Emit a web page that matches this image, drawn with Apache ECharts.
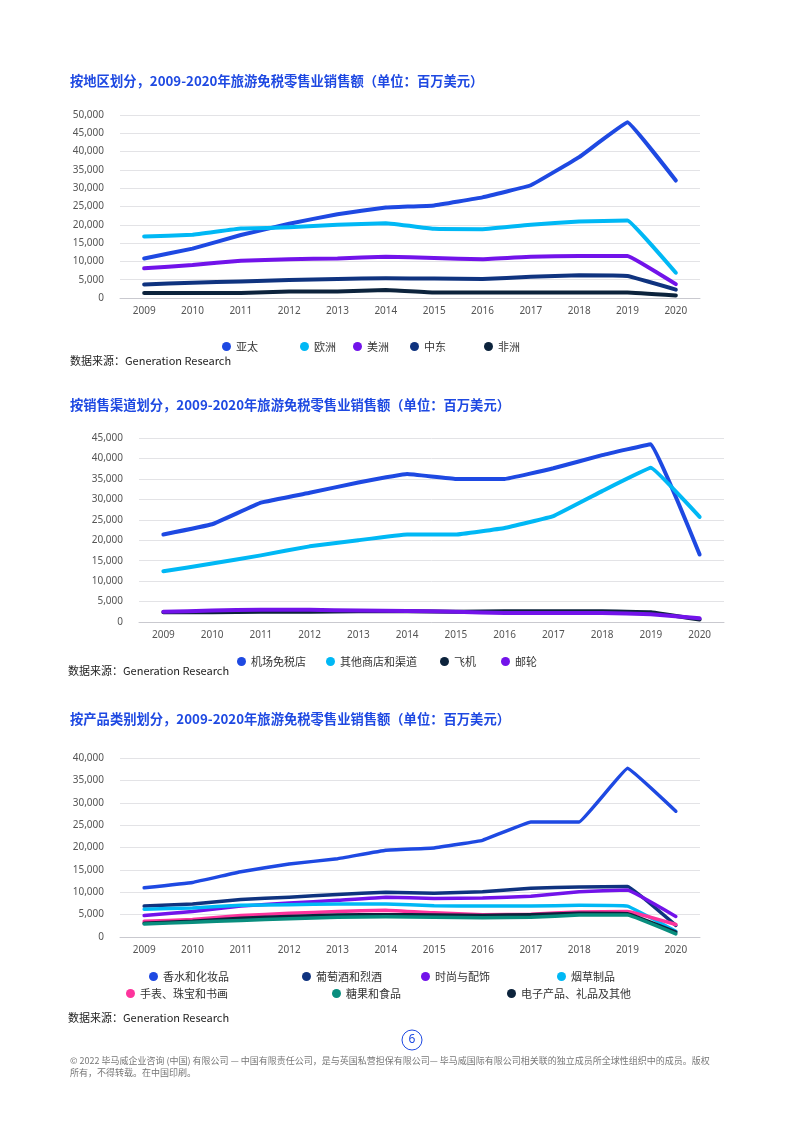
<!DOCTYPE html>
<html>
<head>
<meta charset="utf-8">
<script src="https://cdn.jsdelivr.net/npm/echarts@6/dist/echarts.min.js"></script>
<style>
html,body{margin:0;padding:0;background:#fff;}
#c{width:802px;height:1124px;}
</style>
</head>
<body>
<div id="c"></div>
<script>
// ---- data ----
const years = ['2009','2010','2011','2012','2013','2014','2015','2016','2017','2018','2019','2020'];

// chart 1: by region
const regionNames = ['亚太','欧洲','美洲','中东','非洲'];
const asiaPac   = [10800, 13500, 17200, 20300, 22900, 24700, 25300, 27500, 30800, 38500, 48000, 32100];
const europe    = [16800, 17300, 19000, 19300, 20000, 20400, 18900, 18800, 20000, 20900, 21200, 6900];
const americas  = [8100, 9000, 10200, 10600, 10800, 11300, 10900, 10600, 11300, 11500, 11500, 3800];
const midEast   = [3700, 4200, 4500, 4900, 5200, 5400, 5300, 5200, 5800, 6200, 6000, 2300];
const africa    = [1400, 1400, 1400, 1800, 1800, 2200, 1500, 1500, 1500, 1500, 1500, 700];

// chart 2: by channel
const channelNames = ['机场免税店','其他商店和渠道','飞机','邮轮'];
const airportShops = [21400, 23900, 29200, 31600, 34100, 36200, 35000, 35000, 37600, 40800, 43500, 16500];
const otherShops   = [12400, 14300, 16300, 18500, 20000, 21400, 21400, 23000, 25900, 32000, 37700, 25700];
const airlines     = [2400, 2400, 2500, 2500, 2600, 2600, 2500, 2600, 2600, 2600, 2400, 600];
const cruise       = [2500, 2800, 3000, 3000, 2800, 2700, 2500, 2200, 2200, 2200, 1900, 900];

// chart 3: by product
const productNames = ['香水和化妆品','葡萄酒和烈酒','时尚与配饰','烟草制品','手表、珠宝和书画','糖果和食品','电子产品、礼品及其他'];
const fragrance   = [11000, 12200, 14600, 16300, 17500, 19400, 19900, 21600, 25700, 25700, 37700, 28100];
const wine        = [6900, 7400, 8400, 8900, 9500, 10000, 9800, 10100, 10900, 11200, 11300, 2600];
const fashion     = [4800, 5700, 6900, 7600, 8200, 8900, 8600, 8700, 9100, 10100, 10500, 4600];
const tobacco     = [6200, 6500, 7100, 7200, 7400, 7400, 7000, 6900, 6900, 7100, 6900, 1300];
const watches     = [3500, 3900, 4800, 5300, 5700, 6000, 5400, 5000, 5100, 5600, 5700, 2800];
const confection  = [2900, 3300, 3700, 4100, 4400, 4500, 4400, 4300, 4400, 4900, 4900, 700];
const electronics = [3100, 3500, 4200, 4600, 4900, 5000, 4900, 4800, 5000, 5300, 5200, 1100];

const titleTexts = [
  '按地区划分，2009-2020年旅游免税零售业销售额（单位：百万美元）',
  '按销售渠道划分，2009-2020年旅游免税零售业销售额（单位：百万美元）',
  '按产品类别划分，2009-2020年旅游免税零售业销售额（单位：百万美元）'
];
const sourceText = '数据来源：Generation Research';
const footerLine1 = '© 2022 毕马威企业咨询 (中国) 有限公司 — 中国有限责任公司，是与英国私营担保有限公司— 毕马威国际有限公司相关联的独立成员所全球性组织中的成员。版权';
const footerLine2 = '所有，不得转载。在中国印刷。';
const pageNo = '6';
const yMax = [50000, 45000, 40000];

// ---- styles ----
const C = {
  blue:'#1E49E2', cyan:'#00B8F5', purple:'#7213EA', navy:'#0F337F', dark:'#0C233C',
  pink:'#FD349C', teal:'#098E7E'
};
const cjk = '"Noto Sans CJK SC","Noto Sans",sans-serif';
const num = '"Noto Sans","Noto Sans CJK SC",sans-serif';

const grids = [
  {left:120, right:102, top:115, height:183},
  {left:139, right:78,  top:438, height:184},
  {left:120, right:102, top:758, height:179}
];

function xAx(i){
  return {type:'category', gridIndex:i, data:years, boundaryGap:true,
    axisTick:{show:false}, axisLine:{show:true, lineStyle:{color:'#c9c9cf', width:1}},
    axisLabel:{color:'#555', fontSize:10, fontFamily:num, margin:8}};
}
function yAx(i){
  return {type:'value', gridIndex:i, min:0, max:yMax[i], interval:5000,
    axisLine:{show:false}, axisTick:{show:false},
    splitLine:{lineStyle:{color:'#e3e3e6', width:1}},
    axisLabel:{color:'#555', fontSize:10, fontFamily:num, margin:16,
      formatter:v=>v.toLocaleString('en-US')}};
}
function line(name, data, color, gi, w){
  return {name, type:'line', data, xAxisIndex:gi, yAxisIndex:gi, showSymbol:false,
    smooth:0.06, color, lineStyle:{color, width:w, cap:'round', join:'round'},
    emphasis:{disabled:true}, animation:false};
}
function leg(name, x, y){
  return {data:[name], left:x-4, top:y-7, padding:0, icon:'circle', itemWidth:9, itemHeight:9,
    selectedMode:false, textStyle:{color:'#333', fontSize:11, fontFamily:cjk}};
}

const series = [
  line(regionNames[0], asiaPac, C.blue, 0, 4),
  line(regionNames[1], europe, C.cyan, 0, 4),
  line(regionNames[2], americas, C.purple, 0, 4),
  line(regionNames[3], midEast, C.navy, 0, 4),
  line(regionNames[4], africa, C.dark, 0, 4),

  line(channelNames[0], airportShops, C.blue, 1, 4),
  line(channelNames[1], otherShops, C.cyan, 1, 4),
  line(channelNames[2], airlines, C.dark, 1, 4),
  line(channelNames[3], cruise, C.purple, 1, 4),

  line(productNames[0], fragrance, C.blue, 2, 3.5),
  line(productNames[1], wine, C.navy, 2, 3.5),
  line(productNames[2], fashion, C.purple, 2, 3.5),
  line(productNames[3], tobacco, C.cyan, 2, 3.5),
  line(productNames[4], watches, C.pink, 2, 3.5),
  line(productNames[6], electronics, C.dark, 2, 3.5),
  line(productNames[5], confection, C.teal, 2, 3.5)
];

const legends = [
  leg(regionNames[0], 226, 348), leg(regionNames[1], 304, 348), leg(regionNames[2], 357, 348),
  leg(regionNames[3], 414, 348), leg(regionNames[4], 488, 348),
  leg(channelNames[0], 241, 663), leg(channelNames[1], 330, 663), leg(channelNames[2], 444, 663), leg(channelNames[3], 505, 663),
  leg(productNames[0], 153, 978), leg(productNames[1], 306, 978), leg(productNames[2], 425, 978), leg(productNames[3], 561, 978),
  leg(productNames[4], 130, 995), leg(productNames[5], 336, 995), leg(productNames[6], 511, 995)
];

const titles = [
  {text:titleTexts[0], left:70, top:74},
  {text:titleTexts[1], left:70, top:398},
  {text:titleTexts[2], left:70, top:712}
].map(t=>Object.assign(t,{padding:0, textStyle:{color:C.blue, fontSize:13.3, fontWeight:'bold', fontFamily:cjk}}));
[[70,355],[68,665],[68,1012]].forEach(p=>{
  titles.push({text:sourceText, left:p[0], top:p[1], padding:0,
    textStyle:{color:'#222', fontSize:11, fontWeight:'normal', fontFamily:cjk}});
});

const chart = echarts.init(document.getElementById('c'), null, {renderer:'canvas'});
chart.setOption({
  animation:false,
  backgroundColor:'#fff',
  title:titles,
  legend:legends,
  grid:grids,
  xAxis:[xAx(0), xAx(1), xAx(2)],
  yAxis:[yAx(0), yAx(1), yAx(2)],
  series,
  graphic:[
    {type:'circle', shape:{cx:412, cy:1040, r:10}, style:{fill:'none', stroke:C.blue, lineWidth:1}},
    {type:'text', x:412, y:1040, style:{text:pageNo, fill:C.blue, fontSize:12, fontFamily:num, align:'center', verticalAlign:'middle'}},
    {type:'text', left:70, top:1056, style:{text:footerLine1, fill:'#777', fontSize:9, fontFamily:cjk}},
    {type:'text', left:70, top:1068, style:{text:footerLine2, fill:'#777', fontSize:9, fontFamily:cjk}}
  ]
});
</script>
</body>
</html>
